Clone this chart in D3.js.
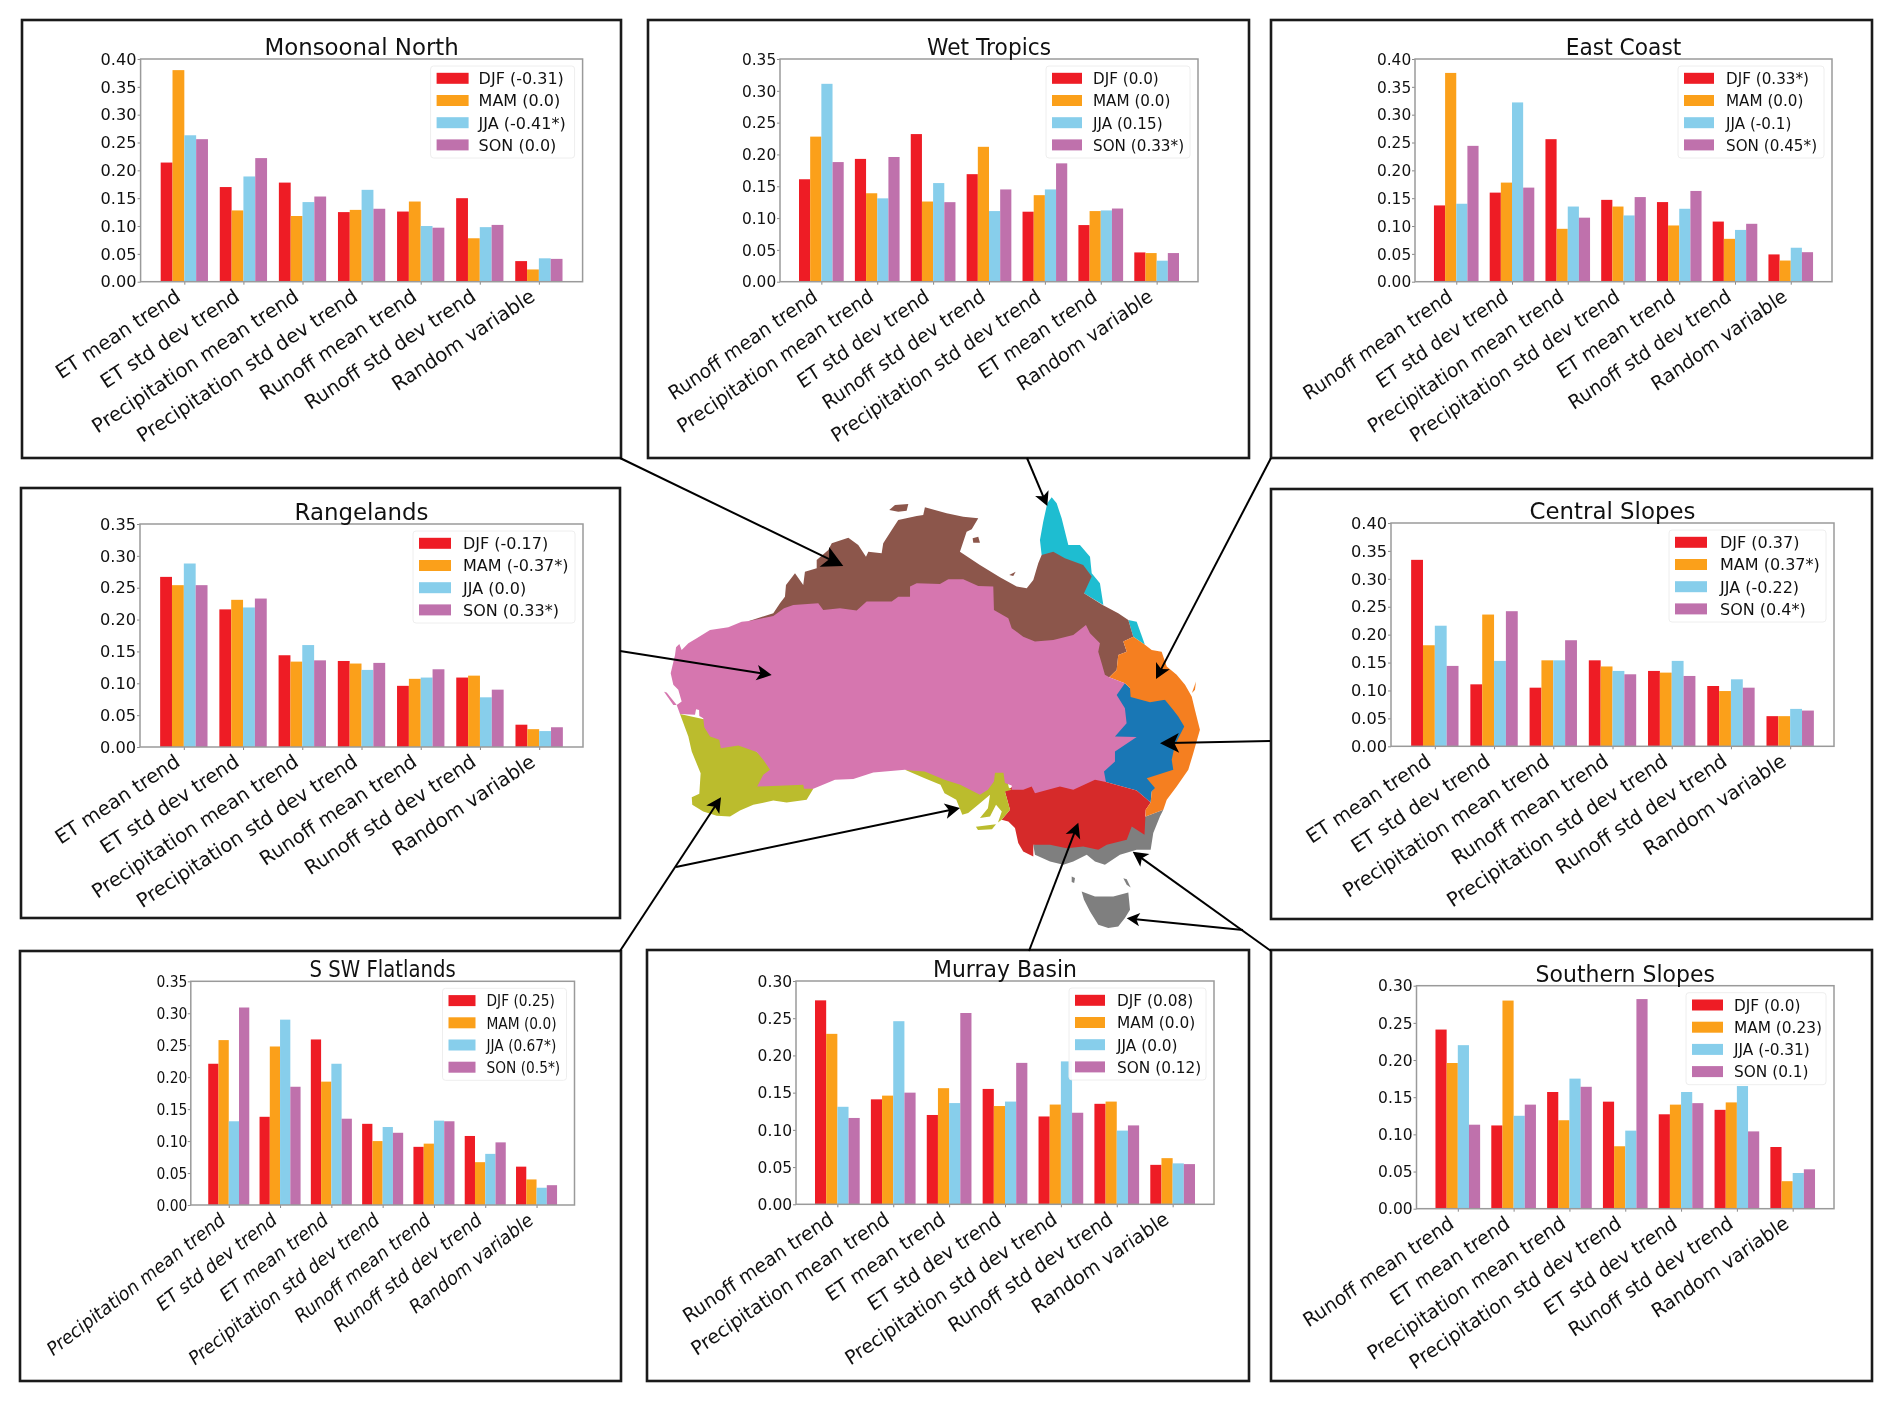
<!DOCTYPE html>
<html>
<head>
<meta charset="utf-8">
<script src="https://cdn.jsdelivr.net/npm/d3@7"></script>
<style>
    html, body { margin: 0; padding: 0; background: #fff; }
    svg { display: block; filter: blur(0.45px); }
    text { font-family: "DejaVu Sans", sans-serif; fill: #111; }
</style>
</head>
<body>
<svg id="figure" width="1892" height="1401"></svg>
<script>
//////////////////// DATA ////////////////////
const seasons = ["DJF", "MAM", "JJA", "SON"];

const monsoonalLabels = ["ET mean trend", "ET std dev trend", "Precipitation mean trend", "Precipitation std dev trend", "Runoff mean trend", "Runoff std dev trend", "Random variable"];
const monsoonalCorr = ["-0.31", "0.0", "-0.41*", "0.0"];
const monsoonalDJF = [0.214, 0.170, 0.178, 0.125, 0.126, 0.150, 0.037];
const monsoonalMAM = [0.380, 0.128, 0.118, 0.129, 0.144, 0.078, 0.022];
const monsoonalJJA = [0.263, 0.189, 0.143, 0.165, 0.100, 0.098, 0.042];
const monsoonalSON = [0.256, 0.222, 0.153, 0.131, 0.097, 0.102, 0.041];

const wetLabels = ["Runoff mean trend", "Precipitation mean trend", "ET std dev trend", "Runoff std dev trend", "Precipitation std dev trend", "ET mean trend", "Random variable"];
const wetCorr = ["0.0", "0.0", "0.15", "0.33*"];
const wetDJF = [0.161, 0.193, 0.232, 0.169, 0.110, 0.089, 0.046];
const wetMAM = [0.228, 0.139, 0.126, 0.212, 0.136, 0.111, 0.045];
const wetJJA = [0.311, 0.131, 0.155, 0.111, 0.145, 0.112, 0.033];
const wetSON = [0.188, 0.196, 0.125, 0.145, 0.186, 0.115, 0.045];

const eastLabels = ["Runoff mean trend", "ET std dev trend", "Precipitation mean trend", "Precipitation std dev trend", "ET mean trend", "Runoff std dev trend", "Random variable"];
const eastCorr = ["0.33*", "0.0", "-0.1", "0.45*"];
const eastDJF = [0.137, 0.160, 0.256, 0.147, 0.143, 0.108, 0.049];
const eastMAM = [0.375, 0.178, 0.095, 0.135, 0.101, 0.077, 0.038];
const eastJJA = [0.140, 0.322, 0.135, 0.119, 0.131, 0.093, 0.061];
const eastSON = [0.244, 0.169, 0.115, 0.152, 0.163, 0.104, 0.053];

const rangeLabels = ["ET mean trend", "ET std dev trend", "Precipitation mean trend", "Precipitation std dev trend", "Runoff mean trend", "Runoff std dev trend", "Random variable"];
const rangeCorr = ["-0.17", "-0.37*", "0.0", "0.33*"];
const rangeDJF = [0.267, 0.216, 0.144, 0.135, 0.096, 0.109, 0.035];
const rangeMAM = [0.254, 0.231, 0.134, 0.131, 0.107, 0.112, 0.028];
const rangeJJA = [0.288, 0.219, 0.160, 0.121, 0.109, 0.078, 0.025];
const rangeSON = [0.254, 0.233, 0.136, 0.132, 0.122, 0.090, 0.031];

const centralLabels = ["ET mean trend", "ET std dev trend", "Precipitation mean trend", "Runoff mean trend", "Precipitation std dev trend", "Runoff std dev trend", "Random variable"];
const centralCorr = ["0.37", "0.37*", "-0.22", "0.4*"];
const centralDJF = [0.334, 0.111, 0.105, 0.154, 0.135, 0.108, 0.054];
const centralMAM = [0.181, 0.236, 0.154, 0.143, 0.132, 0.099, 0.054];
const centralJJA = [0.216, 0.153, 0.154, 0.135, 0.153, 0.120, 0.067];
const centralSON = [0.144, 0.242, 0.190, 0.129, 0.126, 0.105, 0.064];

const flatlandsLabels = ["Precipitation mean trend", "ET std dev trend", "ET mean trend", "Precipitation std dev trend", "Runoff mean trend", "Runoff std dev trend", "Random variable"];
const flatlandsCorr = ["0.25", "0.0", "0.67*", "0.5*"];
const flatlandsDJF = [0.221, 0.138, 0.259, 0.127, 0.091, 0.108, 0.060];
const flatlandsMAM = [0.258, 0.248, 0.193, 0.100, 0.096, 0.067, 0.040];
const flatlandsJJA = [0.131, 0.290, 0.221, 0.122, 0.132, 0.080, 0.027];
const flatlandsSON = [0.309, 0.185, 0.135, 0.113, 0.131, 0.098, 0.031];

const murrayLabels = ["Runoff mean trend", "Precipitation mean trend", "ET mean trend", "ET std dev trend", "Precipitation std dev trend", "Runoff std dev trend", "Random variable"];
const murrayCorr = ["0.08", "0.0", "0.0", "0.12"];
const murrayDJF = [0.274, 0.141, 0.120, 0.155, 0.118, 0.135, 0.053];
const murrayMAM = [0.229, 0.146, 0.156, 0.132, 0.134, 0.138, 0.062];
const murrayJJA = [0.131, 0.246, 0.136, 0.138, 0.192, 0.099, 0.055];
const murraySON = [0.116, 0.150, 0.257, 0.190, 0.123, 0.106, 0.054];

const southernLabels = ["Runoff mean trend", "ET mean trend", "Precipitation mean trend", "Precipitation std dev trend", "ET std dev trend", "Runoff std dev trend", "Random variable"];
const southernCorr = ["0.0", "0.23", "-0.31", "0.1"];
const southernDJF = [0.241, 0.112, 0.157, 0.144, 0.127, 0.133, 0.083];
const southernMAM = [0.196, 0.280, 0.119, 0.084, 0.140, 0.143, 0.037];
const southernJJA = [0.220, 0.125, 0.175, 0.105, 0.157, 0.165, 0.048];
const southernSON = [0.113, 0.140, 0.164, 0.282, 0.142, 0.104, 0.053];

// NRM cluster outlines, [lon, lat] with lat in degrees south
const rangelandsOutline = [[119.12,20.21],[118.56,20.27],[117.54,20.70],[116.14,20.90],[115.12,21.54],[114.48,21.92],[113.97,22.44],[113.79,21.98],[113.54,22.23],[113.46,22.82],[113.13,24.22],[113.33,25.12],[113.71,25.50],[113.97,26.40],[113.59,26.66],[113.84,27.35],[114.99,27.42],[115.07,26.99],[115.30,27.04],[115.32,27.50],[115.62,27.68],[115.70,28.37],[116.14,29.09],[116.85,29.34],[116.96,29.98],[118.30,29.78],[119.71,30.28],[120.21,30.87],[120.73,31.64],[120.21,32.02],[119.75,32.92],[123.27,32.79],[123.33,33.10],[124.04,33.10],[125.70,32.41],[127.10,32.35],[128.63,31.85],[131.05,31.64],[131.67,31.72],[132.56,31.77],[134.08,32.41],[135.28,32.79],[136.79,33.56],[137.40,33.17],[137.86,32.54],[137.94,31.87],[138.59,31.87],[138.70,32.66],[139.22,32.85],[139.22,33.17],[140.10,33.17],[140.75,32.92],[141.00,33.43],[142.91,32.92],[143.93,33.17],[145.59,32.41],[146.43,32.58],[146.28,31.77],[147.12,31.00],[147.12,30.24],[148.78,29.13],[147.12,29.09],[148.01,28.06],[147.88,26.91],[147.25,25.89],[147.88,24.99],[146.68,24.53],[146.35,24.35],[146.10,23.46],[145.84,22.57],[145.97,21.92],[145.21,21.16],[144.90,20.52],[143.93,21.29],[142.40,21.67],[141.00,21.80],[140.10,21.42],[139.22,20.77],[138.96,20.01],[137.86,19.37],[137.81,17.58],[136.66,17.53],[135.51,17.01],[134.37,17.01],[133.73,17.37],[131.95,17.32],[131.44,17.58],[131.44,18.35],[130.54,18.35],[130.04,18.73],[128.12,18.73],[127.36,19.42],[126.08,19.24],[124.80,19.37],[124.42,18.85],[122.51,18.99],[121.80,19.24],[120.98,19.83]];
const rangelandsIsland = [[112.62,25.64],[112.82,25.71],[113.59,26.66],[113.33,26.66]];
const monsoonalOutline = [[119.12,20.21],[120.98,19.62],[121.49,18.85],[121.87,18.35],[121.95,17.45],[122.64,16.55],[123.27,17.45],[123.40,16.43],[124.30,16.17],[124.30,15.53],[125.19,14.77],[125.45,14.25],[126.72,13.82],[127.48,14.38],[128.07,15.28],[128.25,14.90],[129.27,15.02],[129.39,14.25],[130.04,13.23],[130.54,12.47],[131.95,12.16],[132.45,12.08],[132.58,11.49],[134.24,11.95],[135.51,12.21],[136.66,12.34],[136.16,13.18],[135.77,13.36],[135.26,14.90],[136.79,15.92],[138.32,16.86],[139.60,17.58],[140.37,17.70],[140.87,17.07],[141.25,15.79],[141.51,15.15],[142.40,14.90],[143.29,15.40],[144.69,15.92],[145.34,16.81],[144.75,18.09],[146.18,18.99],[147.37,19.62],[148.14,20.14],[148.52,21.42],[147.76,21.80],[148.02,22.57],[147.37,22.82],[147.25,23.97],[146.68,24.53],[134,22]];
const tiwiIsland = [[129.85,11.70],[130.29,11.32],[131.31,11.24],[131.18,11.75],[130.54,11.83]];
const grooteIsland = [[136.23,13.87],[136.66,13.75],[136.79,14.21],[136.28,14.21]];
const morningtonIsland = [[139.03,16.69],[139.52,16.43],[139.34,16.76]];
const wetTropicsOutline = [[141.51,15.15],[141.38,14.00],[141.63,12.60],[141.94,11.19],[142.28,10.72],[142.66,11.19],[143.04,12.34],[143.55,14.38],[144.44,14.38],[145.21,15.28],[145.34,16.55],[145.97,17.32],[146.23,18.99],[144.75,18.09],[144,16.5]];
const wetTropicsStrip = [[148.14,20.14],[148.78,20.27],[149.41,22.05],[148.52,21.42]];
const eastCoastOutline = [[146.68,24.53],[147.25,23.97],[147.37,22.82],[148.02,22.57],[147.76,21.80],[148.52,21.42],[149.41,22.05],[149.93,22.44],[150.69,22.57],[151.08,23.72],[151.84,24.35],[152.48,25.12],[152.99,26.02],[153.24,27.04],[153.62,28.57],[153.11,30.36],[152.73,31.64],[151.84,32.92],[151.08,33.94],[150.82,34.71],[149.47,35.22],[149.47,34.71],[149.85,34.15],[149.93,33.30],[150.18,33.04],[149.55,32.28],[151.58,31.64],[151.46,30.87],[151.71,29.72],[152.42,28.32],[151.96,27.55],[151.58,27.04],[150.94,26.27],[149.80,26.45],[148.32,26.06],[148.27,25.37],[147.88,24.99]];
const fraserIsland = [[153.32,24.87],[153.01,25.74],[153.24,25.50]];
const centralSlopesOutline = [[147.88,24.99],[148.27,25.37],[150,26],[152.0,26.5],[152.7,28.3],[151.9,30],[151.9,32],[150.3,33],[149.93,33.30],[149.85,34.15],[148.78,33.23],[146.43,32.58],[145,31],[145,25]];
const murrayOutline = [[138.70,33.31],[139.5,32.8],[146.0,32.0],[146.43,32.58],[148.78,33.23],[149.85,34.15],[149.47,34.71],[149.38,36.63],[148.40,35.99],[148.02,37.01],[146.49,37.39],[145.84,37.78],[144.69,37.52],[143.42,37.65],[142.15,37.39],[140.87,37.39],[140.87,38.29],[140.10,37.90],[139.72,37.26],[139.47,36.11],[138.96,35.61],[138.45,35.48],[139.09,34.71]];
const southernOutline = [[150.82,34.71],[150.56,35.22],[150.05,36.49],[149.85,37.78],[148.78,37.78],[147.50,38.16],[146.35,38.93],[145.59,38.67],[144.96,38.16],[143.93,38.67],[143.17,38.93],[142.15,38.67],[141.00,38.16],[140.87,37.39],[144,36],[149.47,35.22]];
const tasmaniaOutline = [[144.57,40.97],[145.59,41.36],[146.99,41.36],[148.14,41.05],[148.27,42.38],[147.88,43.01],[147.37,43.66],[146.61,43.78],[145.84,43.53],[145.21,42.51],[144.75,41.61]];
const kingIsland = [[143.81,39.82],[144.06,39.95],[144.00,40.33],[143.81,40.25]];
const flindersIsland = [[147.76,39.96],[148.02,40.03],[148.32,40.67],[148.02,40.47]];
const flatlandsWestOutline = [[113.84,27.35],[116.8,28.0],[121.3,31.5],[123.33,32.5],[124.04,33.10],[123.53,33.94],[122.00,34.15],[120.98,34.00],[119.45,34.33],[118.43,34.76],[117.67,35.22],[116.65,35.17],[115.62,34.84],[114.78,34.33],[114.74,33.74],[115.32,33.48],[115.42,31.90],[114.74,30.24],[114.48,29.09]];
const flatlandsEastOutline = [[131.05,31.64],[135,31.2],[138.6,31.2],[139,33],[139.22,33.17],[138.70,33.31],[139.09,34.71],[138.45,35.48],[138.17,35.68],[138.46,34.84],[138.02,34.33],[137.56,35.22],[136.79,35.34],[137.40,34.58],[137.56,33.56],[136.79,34.20],[135.89,34.96],[135.44,35.09],[134.98,33.94],[134.08,33.43],[133.77,32.79],[132.56,32.28]];
const kangarooIsland = [[136.48,36.00],[138.02,35.81],[137.71,36.20],[136.64,36.25]];


//////////////////// STYLES AND SIZES ////////////////////
const seasonColors = ["#ee1c25", "#fba01a", "#87ceeb", "#bf71ac"];
const tickFontSize = 16.2;
const legendFontSize = 16;
const labelFontSize = 19.6;
const titleFontSize = 22.9;

// box, axes and legend of each panel, in pixels of the figure
const panels = [
    { title: "Monsoonal North", labels: monsoonalLabels, corr: monsoonalCorr, values: [monsoonalDJF, monsoonalMAM, monsoonalJJA, monsoonalSON],
      box: [22, 20, 621, 458], axes: [140.6, 59, 582.6, 281.7], yMax: 0.40, stretch: 1, legendWidth: 144, legendText: 48, swatch: 32 },
    { title: "Wet Tropics", labels: wetLabels, corr: wetCorr, values: [wetDJF, wetMAM, wetJJA, wetSON],
      box: [648, 20, 1249, 458], axes: [780, 59, 1198, 281.7], yMax: 0.35, stretch: 0.95, legendWidth: 144, legendText: 47, swatch: 30 },
    { title: "East Coast", labels: eastLabels, corr: eastCorr, values: [eastDJF, eastMAM, eastJJA, eastSON],
      box: [1271, 20, 1872, 458], axes: [1415, 59, 1832, 281.7], yMax: 0.40, stretch: 0.95, legendWidth: 146, legendText: 48, swatch: 30 },
    { title: "Rangelands", labels: rangeLabels, corr: rangeCorr, values: [rangeDJF, rangeMAM, rangeJJA, rangeSON],
      box: [21, 488, 620, 918], axes: [140, 524, 583, 747], yMax: 0.35, stretch: 1, legendWidth: 162, legendText: 50, swatch: 32 },
    { title: "Central Slopes", labels: centralLabels, corr: centralCorr, values: [centralDJF, centralMAM, centralJJA, centralSON],
      box: [1271, 489, 1872, 919], axes: [1391, 523, 1834, 746.3], yMax: 0.40, stretch: 1, legendWidth: 157, legendText: 51, swatch: 32 },
    { title: "S SW Flatlands", labels: flatlandsLabels, corr: flatlandsCorr, values: [flatlandsDJF, flatlandsMAM, flatlandsJJA, flatlandsSON],
      box: [20, 951, 621, 1381], axes: [190.8, 981.3, 574.5, 1205], yMax: 0.35, stretch: 0.86, legendWidth: 124, legendText: 44, swatch: 27 },
    { title: "Murray Basin", labels: murrayLabels, corr: murrayCorr, values: [murrayDJF, murrayMAM, murrayJJA, murraySON],
      box: [647, 950, 1249, 1381], axes: [796, 981, 1214, 1204.3], yMax: 0.30, stretch: 0.96, legendWidth: 137, legendText: 48, swatch: 30 },
    { title: "Southern Slopes", labels: southernLabels, corr: southernCorr, values: [southernDJF, southernMAM, southernJJA, southernSON],
      box: [1271, 950, 1872, 1381], axes: [1416.5, 985.7, 1834, 1208.7], yMax: 0.30, stretch: 0.96, legendWidth: 140, legendText: 48, swatch: 31 }
];

// order matters, later regions sit on top of the rough inner edges of earlier ones
const regions = [
    { color: "#1ebdd1", shapes: [wetTropicsOutline, wetTropicsStrip] },
    { color: "#8c564b", shapes: [monsoonalOutline, tiwiIsland, grooteIsland, morningtonIsland] },
    { color: "#1977b5", shapes: [centralSlopesOutline] },
    { color: "#7f7f7f", shapes: [southernOutline, tasmaniaOutline, kingIsland, flindersIsland] },
    { color: "#d62a2a", shapes: [murrayOutline] },
    { color: "#f57f20", shapes: [eastCoastOutline, fraserIsland] },
    { color: "#bbbc2d", shapes: [flatlandsWestOutline, flatlandsEastOutline, kangarooIsland] },
    { color: "#d676af", shapes: [rangelandsOutline, rangelandsIsland] }
];

// leader lines from the panels to the map
const arrows = [
    { from: [620, 458], to: [843.3, 566], head: 21 },
    { from: [1027, 458], to: [1047.3, 506], head: 14 },
    { from: [1271, 458], to: [1156, 679], head: 15 },
    { from: [620, 651], to: [771.7, 675], head: 15 },
    { from: [1270, 741], to: [1160, 743.3], head: 19 },
    { from: [620, 951], to: [721, 797.3], head: 15 },
    { from: [676, 867], to: [960, 808], head: 15 },
    { from: [1029, 951], to: [1078.3, 822.7], head: 15 },
    { from: [1271, 951], to: [1132.7, 851.7], head: 15 },
    { from: [1243, 930], to: [1126.7, 918.3], head: 13 }
];


//////////////////// INITIALIZE FIGURE ////////////////////
const figure = d3.select("#figure");

figure.append("rect")
    .attr("width", 1892)
    .attr("height", 1401)
    .attr("fill", "white");


//////////////////// DRAW MAP ////////////////////
const lonScale = d3.scaleLinear().domain([113, 154]).range([669.0, 1204.9]);
const latScale = d3.scaleLinear().domain([10, 45]).range([487.85, 943.9]);

const mapLine = d3.line()
    .x(d => lonScale(d[0]))
    .y(d => latScale(d[1]))
    .curve(d3.curveLinearClosed);

const mapGroup = figure.append("g");

regions.forEach(region => {
    mapGroup.selectAll(null)
        .data(region.shapes)
        .enter()
        .append("path")
        .attr("d", mapLine)
        .attr("fill", region.color);
});


//////////////////// DRAW PANEL FUNCTION ////////////////////
function drawPanel(panel) {

    ///// PREPARATION /////
    const [boxLeft, boxTop, boxRight, boxBottom] = panel.box;
    const [left, top, right, bottom] = panel.axes;
    const group = figure.append("g");

    // panel frame
    group.append("rect")
        .attr("x", boxLeft)
        .attr("y", boxTop)
        .attr("width", boxRight - boxLeft)
        .attr("height", boxBottom - boxTop)
        .attr("fill", "white")
        .attr("stroke", "#1a1a1a")
        .attr("stroke-width", 2.6);

    // bars are 0.2 wide, centred on the integer positions, 5% margin both sides
    const xScale = d3.scaleLinear().domain([-0.74, 6.74]).range([left, right]);
    const yScale = d3.scaleLinear().domain([0, panel.yMax]).range([bottom, top]);
    const barWidth = xScale(0.2) - xScale(0);


    ///// DRAW BARS /////
    panel.values.forEach((series, s) => {
        group.selectAll(null)
            .data(series)
            .enter()
            .append("rect")
            .attr("x", (d, i) => xScale(i - 0.4 + 0.2 * s))
            .attr("y", d => yScale(d))
            .attr("width", barWidth)
            .attr("height", d => yScale(0) - yScale(d))
            .attr("fill", seasonColors[s]);
    });


    ///// DRAW AXES /////
    const yAxis = d3.axisLeft(yScale)
        .tickValues(d3.range(0, panel.yMax + 0.001, 0.05))
        .tickFormat(d3.format(".2f"))
        .tickSize(3)
        .tickPadding(1);

    const yAxisGroup = group.append("g")
        .attr("transform", `translate(${left}, 0)`)
        .call(yAxis);
    yAxisGroup.select(".domain").remove();
    yAxisGroup.selectAll("line").attr("stroke", "#888");
    yAxisGroup.selectAll("text")
        .attr("font-size", tickFontSize)
        .attr("transform", `scale(${panel.stretch}, 1)`)
        .attr("font-family", "DejaVu Sans");

    const xAxis = d3.axisBottom(xScale)
        .tickValues(d3.range(0, 7))
        .tickFormat(i => panel.labels[i])
        .tickSize(3);

    const xAxisGroup = group.append("g")
        .attr("transform", `translate(0, ${bottom})`)
        .call(xAxis);
    xAxisGroup.select(".domain").remove();
    xAxisGroup.selectAll("line").attr("stroke", "#888");
    xAxisGroup.selectAll("text")
        .attr("font-size", labelFontSize)
        .attr("font-family", "DejaVu Sans")
        .attr("text-anchor", "end")
        .attr("x", 0)
        .attr("y", 0)
        .attr("dy", 0)
        .attr("transform", `translate(-3, 18) scale(${panel.stretch}, 1) rotate(-33.5)`);

    // spines
    group.append("rect")
        .attr("x", left)
        .attr("y", top)
        .attr("width", right - left)
        .attr("height", bottom - top)
        .attr("fill", "none")
        .attr("stroke", "#9a9a9a")
        .attr("stroke-width", 1.5);

    // title
    group.append("text")
        .attr("transform", `translate(${(left + right) / 2}, ${top - 4}) scale(${panel.stretch}, 1)`)
        .attr("text-anchor", "middle")
        .attr("font-size", titleFontSize)
        .text(panel.title);


    ///// DRAW LEGEND /////
    const legendLeft = right - 8 - panel.legendWidth;
    const legendTop = top + 7;

    group.append("rect")
        .attr("x", legendLeft)
        .attr("y", legendTop)
        .attr("width", panel.legendWidth)
        .attr("height", 92)
        .attr("rx", 3)
        .attr("fill", "white")
        .attr("fill-opacity", 0.92)
        .attr("stroke", "#eeeeee")
        .attr("stroke-width", 1);

    const legendRows = group.selectAll(null)
        .data(seasons)
        .enter()
        .append("g")
        .attr("transform", (d, i) => `translate(${legendLeft}, ${legendTop + 12.3 + 22.2 * i})`);

    legendRows.append("rect")
        .attr("x", 6)
        .attr("y", -5.5)
        .attr("width", panel.swatch)
        .attr("height", 11)
        .attr("fill", (d, i) => seasonColors[i]);

    legendRows.append("text")
        .attr("transform", `translate(${panel.legendText}, 5.8) scale(${panel.stretch}, 1)`)
        .attr("font-size", legendFontSize)
        .text((d, i) => `${d} (${panel.corr[i]})`);
}

panels.forEach(drawPanel);


//////////////////// DRAW ARROWS ////////////////////
const arrowGroup = figure.append("g");

arrows.forEach(arrow => {
    const [x1, y1] = arrow.from;
    const [x2, y2] = arrow.to;
    const angle = Math.atan2(y2 - y1, x2 - x1) * 180 / Math.PI;
    const size = arrow.head;

    arrowGroup.append("line")
        .attr("x1", x1)
        .attr("y1", y1)
        .attr("x2", x2 - (x2 - x1) / Math.hypot(x2 - x1, y2 - y1) * size * 0.5)
        .attr("y2", y2 - (y2 - y1) / Math.hypot(x2 - x1, y2 - y1) * size * 0.5)
        .attr("stroke", "black")
        .attr("stroke-width", 2);

    // stealth head, tip at the origin
    arrowGroup.append("path")
        .attr("d", `M0,0 L${-size},${-size * 0.52} L${-size * 0.75},0 L${-size},${size * 0.52} Z`)
        .attr("fill", "black")
        .attr("transform", `translate(${x2}, ${y2}) rotate(${angle})`);
});
</script>
</body>
</html>
